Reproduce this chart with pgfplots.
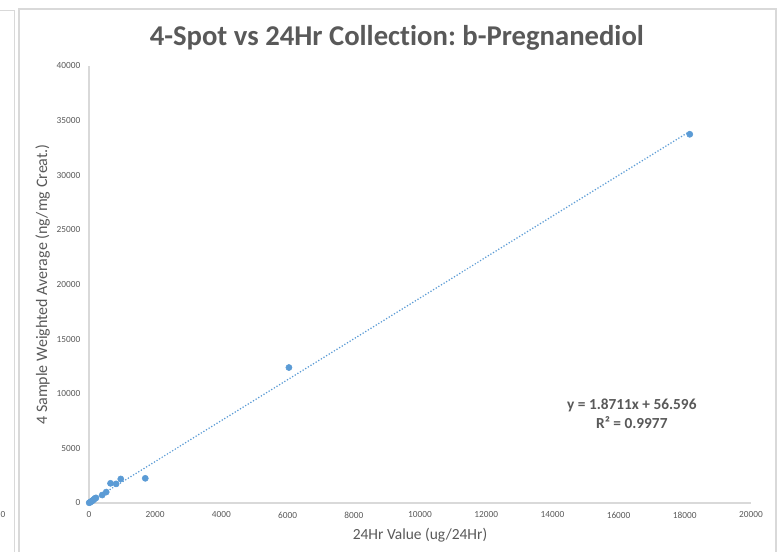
\documentclass[border=0pt]{standalone}
\usepackage{pgfplots}
\pgfplotsset{compat=1.18}
\usepackage{fontspec}
\setmainfont[Ligatures=NoCommon]{Carlito}
\definecolor{txt}{HTML}{595959}
\definecolor{axl}{HTML}{D9D9D9}
\definecolor{frm}{HTML}{D9D9D9}
\definecolor{mk}{HTML}{5B9BD5}
\frenchspacing
\begin{document}
\begin{tikzpicture}
\path[use as bounding box] (0,0) rectangle (586.5pt,414pt);
% chart frames
\draw[frm, line width=0.9pt] (14.25pt,-5pt) -- (14.25pt,407.25pt) -- (582pt,407.25pt) -- (582pt,-5pt);
\draw[frm, line width=0.9pt] (-5pt,406.3pt) -- (11pt,406.3pt) -- (11pt,-5pt);
\node[txt, font=\fontsize{7}{8}\selectfont, inner sep=0pt, anchor=west] at (0.3pt,27.75pt) {0};
\begin{axis}[
  at={(66.75pt,36.75pt)}, anchor=south west,
  scale only axis, width=496.5pt, height=327.75pt,
  xmin=0, xmax=20000, ymin=0, ymax=40000,
  axis lines*=left,
  axis line style={axl, line width=0.8pt, -},
  major tick length=0pt,
  xtick={0,2000,...,20000},
  ytick={0,5000,...,40000},
  scaled ticks=false,
  /pgf/number format/assume math mode=true,
  /pgf/number format/1000 sep={},
  tick label style={txt, font=\fontsize{7}{8}\selectfont},
  xticklabel style={yshift=-3pt},
  yticklabel style={xshift=-3pt},
  xlabel={24Hr Value (ug/24Hr)},
  ylabel={4 Sample Weighted Average (ng/mg Creat.)},
  xlabel style={txt, font=\fontsize{11.6}{13}\selectfont, at={(axis description cs:0.5,-0.073)}, anchor=center},
  ylabel style={txt, font=\fontsize{12}{13}\selectfont, at={(axis description cs:-0.07,0.5)}, anchor=center},
  title={\textbf{4-Spot vs 24Hr Collection: b-Pregnanediol}},
  title style={txt, font=\fontsize{21.5}{24}\selectfont, at={(axis description cs:0.465,1.045)}, anchor=center},
  clip=false,
]
\addplot[mk, line width=1.3pt, line cap=round, dash pattern=on 0pt off 2.3pt, forget plot]
  coordinates {(5,66) (18150,34017)};
\addplot[only marks, mark=*, mark size=2.3pt, mk, mark options={draw=mk, fill=mk}]
  coordinates {
  (5,20) (30,60) (60,120) (90,180) (120,250) (150,330) (180,420) (210,470)
  (400,730) (520,1000) (650,1800) (820,1750) (960,2200) (1700,2260)
  (6040,12400) (18150,33750)
  };
\node[txt, font=\bfseries\fontsize{11.5}{14.25}\selectfont, align=center] at (rel axis cs:0.82,0.204)
  {y = 1.8711x + 56.596\\R² = 0.9977};
\end{axis}
\end{tikzpicture}
\end{document}
